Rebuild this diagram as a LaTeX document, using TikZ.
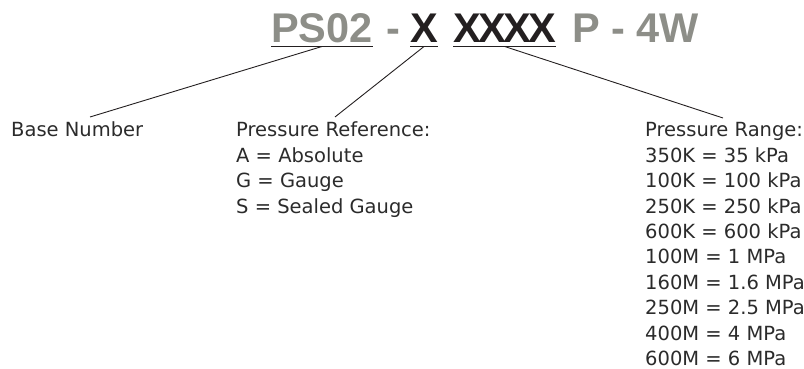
\documentclass[tikz,border=0pt]{standalone}
\usepackage{fontspec}
\setmainfont{DejaVu Sans}
\newfontfamily\ttlfont{Liberation Sans}
\usetikzlibrary{positioning}
\definecolor{ttlgray}{HTML}{8D8E88}
\definecolor{ttlblack}{HTML}{231F20}
\definecolor{lblblack}{HTML}{2B2B2B}

\begin{document}
\begin{tikzpicture}[x=1pt,y=1pt,
    ttl/.style={inner sep=0pt, anchor=base west, text=ttlgray,
        font=\ttlfont\bfseries\fontsize{41.5}{45}\selectfont},
    ttlkey/.style={ttl, text=ttlblack},
    lbl/.style={inner sep=0pt, anchor=base west, align=left, text=lblblack,
        font=\fontsize{19.5}{25.4}\selectfont},
    uline/.style={line width=1.5pt, ttlblack},
    lead/.style={line width=0.9pt, ttlblack}]
\useasboundingbox (0,0) rectangle (804,369);
    % Kopfzeile:
    \node[ttl] (ps) at (271,326) {PS02};
    \node[ttl] (dashA) at (386,326) {-};
    \node[ttlkey] (xref) at (410,326) {X};
    \node[ttlkey] (xrange) at (453,326) {X\kern-2.6pt X\kern-2.6pt X\kern-2.6pt X};
    \node[ttl] (tail) at (572,326) {P - 4W};
    % Unterstriche:
    \draw[uline] ([yshift=-3.5pt]ps.base west) -- ([yshift=-3.5pt]ps.base east);
    \draw[uline] ([yshift=-3.5pt]xref.base west) -- ([yshift=-3.5pt]xref.base east);
    \draw[uline] ([yshift=-3.5pt]xrange.base west) -- ([yshift=-3.5pt]xrange.base east);
    % Beschriftungen (base = letzte Zeile):
    \node[lbl] (base) at (11,232) {Base Number};
    \node[lbl] (refer) at (236,155.8) {Pressure Reference:\\A = Absolute\\G = Gauge\\S = Sealed Gauge};
    \node[lbl] (range) at (645,3.4) {Pressure Range:\\350K = 35 kPa\\100K = 100 kPa\\250K = 250 kPa\\600K = 600 kPa\\100M = 1 MPa\\160M = 1.6 MPa\\250M = 2.5 MPa\\400M = 4 MPa\\600M = 6 MPa};
    % Zeiger:
    \coordinate (baseTip) at (90,252);
    \coordinate (referTip) at (335,252);
    \coordinate (rangeTip) at (723,251);
    \draw[lead] ([yshift=-3.5pt]ps.base) -- (baseTip);
    \draw[lead] ([yshift=-3.5pt]xref.base) -- (referTip);
    \draw[lead] ([yshift=-3.5pt]xrange.base) -- (rangeTip);
\end{tikzpicture}
\end{document}
